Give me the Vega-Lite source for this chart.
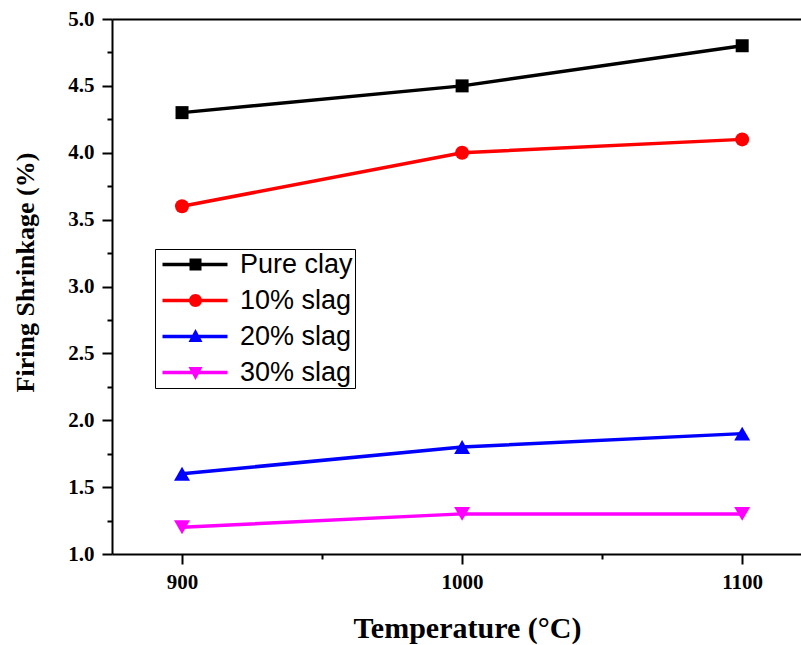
{
  "$schema": "https://vega.github.io/schema/vega-lite/v6.json",
  "width": 689,
  "height": 535,
  "autosize": "none",
  "padding": {"left": 112, "top": 19, "right": 0, "bottom": 91},
  "background": "white",
  "config": {
    "view": {"stroke": null},
    "axis": {
      "grid": false,
      "domainColor": "black",
      "domainWidth": 2,
      "tickColor": "black",
      "tickWidth": 2,
      "labelFont": "Liberation Serif",
      "labelFontWeight": "bold",
      "labelFontSize": 21,
      "labelColor": "black",
      "titleFont": "Liberation Serif",
      "titleFontWeight": "bold",
      "titleColor": "black"
    },
    "legend": {
      "orient": "none", "legendX": 43, "legendY": 230,
      "padding": 2, "strokeColor": "black", "fillColor": "white",
      "labelFont": "Liberation Sans", "labelFontSize": 27, "labelColor": "black",
      "labelOffset": 56, "rowPadding": 8, "symbolSize": 400, "symbolStrokeWidth": 0,
      "symbolOpacity": 1
    }
  },
  "data": {
    "values": [
      {"series": "Pure clay", "temp": 900, "value": 4.3},
      {"series": "Pure clay", "temp": 1000, "value": 4.5},
      {"series": "Pure clay", "temp": 1100, "value": 4.8},
      {"series": "10% slag", "temp": 900, "value": 3.6},
      {"series": "10% slag", "temp": 1000, "value": 4.0},
      {"series": "10% slag", "temp": 1100, "value": 4.1},
      {"series": "20% slag", "temp": 900, "value": 1.6},
      {"series": "20% slag", "temp": 1000, "value": 1.8},
      {"series": "20% slag", "temp": 1100, "value": 1.9},
      {"series": "30% slag", "temp": 900, "value": 1.2},
      {"series": "30% slag", "temp": 1000, "value": 1.3},
      {"series": "30% slag", "temp": 1100, "value": 1.3}
    ]
  },
  "resolve": {"scale": {"color": "independent", "shape": "independent"}, "axis": {"x": "independent", "y": "independent"}},
  "layer": [
    {
      "mark": {"type": "line", "strokeWidth": 3.5},
      "encoding": {
        "x": {
          "field": "temp", "type": "quantitative",
          "scale": {"domain": [875, 1121], "nice": false, "zero": false},
          "axis": {
            "values": [900, 1000, 1100], "format": "d", "tickSize": 10, "labelPadding": 7,
            "title": "Temperature (°C)", "titleFontSize": 30, "titleX": 355, "titleY": 83,
            "titleBaseline": "alphabetic", "titleAnchor": "middle"
          }
        },
        "y": {
          "field": "value", "type": "quantitative",
          "scale": {"domain": [1, 5], "nice": false, "zero": false},
          "axis": {
            "values": [1, 1.5, 2, 2.5, 3, 3.5, 4, 4.5, 5], "format": ".1f", "tickSize": 10, "labelPadding": 8,
            "title": "Firing Shrinkage (%)", "titleFontSize": 26, "titleX": -74, "titleY": 253
          }
        },
        "color": {
          "field": "series", "type": "nominal",
          "scale": {"domain": ["Pure clay", "10% slag", "20% slag", "30% slag"], "range": ["#000000", "#ff0000", "#0000ff", "#ff00ff"]},
          "legend": null
        }
      }
    },
    {
      "transform": [{"filter": "datum.series === 'Pure clay'"}],
      "mark": {"type": "point", "shape": "square", "filled": true, "opacity": 1, "size": 169, "color": "#000000"},
      "encoding": {
        "x": {"field": "temp", "type": "quantitative", "axis": null},
        "y": {"field": "value", "type": "quantitative", "axis": null}
      }
    },
    {
      "transform": [{"filter": "datum.series === '10% slag'"}],
      "mark": {"type": "point", "shape": "circle", "filled": true, "opacity": 1, "size": 196, "color": "#ff0000"},
      "encoding": {
        "x": {"field": "temp", "type": "quantitative", "axis": null},
        "y": {"field": "value", "type": "quantitative", "axis": null}
      }
    },
    {
      "transform": [{"filter": "datum.series === '20% slag'"}],
      "mark": {"type": "point", "shape": "triangle-up", "filled": true, "opacity": 1, "size": 256, "color": "#0000ff"},
      "encoding": {
        "x": {"field": "temp", "type": "quantitative", "axis": null},
        "y": {"field": "value", "type": "quantitative", "axis": null}
      }
    },
    {
      "transform": [{"filter": "datum.series === '30% slag'"}],
      "mark": {"type": "point", "shape": "triangle-down", "filled": true, "opacity": 1, "size": 256, "color": "#ff00ff"},
      "encoding": {
        "x": {"field": "temp", "type": "quantitative", "axis": null},
        "y": {"field": "value", "type": "quantitative", "axis": null}
      }
    },
    {
      "mark": {"type": "point", "filled": true, "opacity": 0},
      "encoding": {
        "x": {"field": "temp", "type": "quantitative", "axis": null},
        "y": {"field": "value", "type": "quantitative", "axis": null},
        "color": {
          "field": "series", "type": "nominal",
          "scale": {"domain": ["Pure clay", "10% slag", "20% slag", "30% slag"], "range": ["#000000", "#ff0000", "#0000ff", "#ff00ff"]},
          "legend": {"title": null}
        },
        "shape": {
          "field": "series", "type": "nominal",
          "scale": {
            "domain": ["Pure clay", "10% slag", "20% slag", "30% slag"],
            "range": [
              "M-0.8,-0.175H5.7V0.175H-0.8ZM1.9,-0.6H3.1V0.6H1.9Z",
              "M-0.8,-0.175H5.7V0.175H-0.8ZM1.85,0A0.65,0.65,0,1,1,3.15,0A0.65,0.65,0,1,1,1.85,0Z",
              "M-0.8,-0.175H5.7V0.175H-0.8ZM2.5,-0.75L3.2,0.55L1.8,0.55Z",
              "M-0.8,-0.175H5.7V0.175H-0.8ZM2.5,0.75L1.8,-0.55L3.2,-0.55Z"
            ]
          },
          "legend": {"title": null}
        }
      }
    },
    {
      "mark": {"type": "point", "opacity": 0},
      "encoding": {
        "x": {
          "field": "temp", "type": "quantitative",
          "axis": {"orient": "bottom", "values": [950, 1050], "tickSize": 5, "labels": false, "domain": false, "title": null}
        },
        "y": {
          "field": "value", "type": "quantitative",
          "axis": {"orient": "left", "values": [1.25, 1.75, 2.25, 2.75, 3.25, 3.75, 4.25, 4.75], "tickSize": 5, "labels": false, "domain": false, "title": null}
        }
      }
    },
    {
      "mark": {"type": "point", "opacity": 0},
      "encoding": {
        "x": {
          "field": "temp", "type": "quantitative",
          "axis": {"orient": "top", "ticks": false, "labels": false, "domain": true, "title": null}
        },
        "y": {"field": "value", "type": "quantitative", "axis": null}
      }
    }
  ]
}
